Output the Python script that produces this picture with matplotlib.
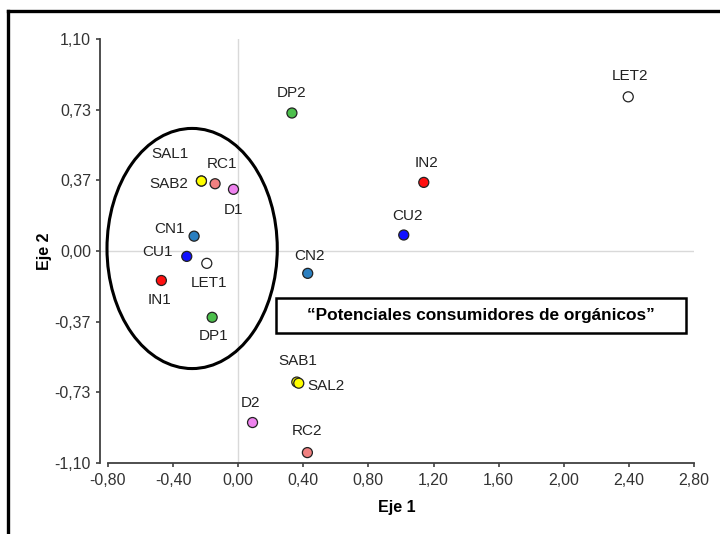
import matplotlib
matplotlib.use("Agg")
import matplotlib.pyplot as plt
from matplotlib.patches import Ellipse
from matplotlib.lines import Line2D
import numpy as np

plt.rcParams['font.family'] = ['Liberation Sans', 'DejaVu Sans']

# ---- data ----
labels = ["DP2", "SAL1", "SAB2", "RC1", "D1", "CN1", "CU1", "LET1", "IN1", "DP1",
          "CN2", "SAB1", "SAL2", "D2", "RC2", "IN2", "CU2", "LET2"]
eje1 = [0.33, -0.226, -0.226, -0.142, -0.029, -0.271, -0.316, -0.193, -0.472, -0.160,
        0.427, 0.360, 0.372, 0.088, 0.425, 1.140, 1.017, 2.396]
eje2 = [0.716, 0.363, 0.363, 0.349, 0.320, 0.077, -0.028, -0.064, -0.153, -0.344,
        -0.116, -0.680, -0.686, -0.890, -1.046, 0.356, 0.083, 0.800]
colors = ["#4cbf4c", "#ffff00", "#ffff00", "#f08080", "#ee82ee", "#2b7fc0", "#1010ff",
          "#ffffff", "#ff1010", "#4cbf4c", "#2b7fc0", "#ffff00", "#ffff00", "#ee82ee",
          "#f08080", "#ff1010", "#1010ff", "#ffffff"]
# label offsets in pixels (dx, dy; y up)
offsets = [(0, 20), (-31, 27), (-33, -3), (7, 20), (0, -21), (-25, 7), (-29, 4), (2, -20),
           (-2, -20), (1, -19), (2, 17), (1, 21), (27, -3), (-2, 20), (0, 22), (3, 19), (4, 19), (2, 21)]

xticks = [-0.80, -0.40, 0.00, 0.40, 0.80, 1.20, 1.60, 2.00, 2.40, 2.80]
yticks = list(np.linspace(-1.10, 1.10, 7))
ytick_labels = ["-1,10", "-0,73", "-0,37", "0,00", "0,37", "0,73", "1,10"]
xtick_labels = ["-0,80", "-0,40", "0,00", "0,40", "0,80", "1,20", "1,60", "2,00", "2,40", "2,80"]

W, H = 720, 534
fig = plt.figure(figsize=(W / 100, H / 100), dpi=100)
ax = fig.add_axes([100 / W, 1 - 463 / H, 594 / W, 424 / H])
ax.set_xlim(-0.849, 2.80)
ax.set_ylim(-1.10, 1.10)

for s in ["top", "right"]:
    ax.spines[s].set_visible(False)
ax.spines["left"].set_bounds(-1.10, 1.10)
ax.spines["bottom"].set_bounds(-0.80, 2.80)
for s in ["left", "bottom"]:
    ax.spines[s].set_color("#404040")
    ax.spines[s].set_linewidth(1.3)

ax.set_xticks(xticks)
ax.set_xticklabels(xtick_labels)
ax.set_yticks(yticks)
ax.set_yticklabels(ytick_labels)
ax.tick_params(axis="both", colors="#404040", labelcolor="#333333", labelsize=11.5,
               length=3, width=1.2)
ax.tick_params(axis="x", pad=4)

ax.axvline(0, color="#d9d9d9", lw=1, zorder=0)
ax.axhline(0, color="#d9d9d9", lw=1, zorder=0)

ax.scatter(eje1, eje2, s=52, c=colors, edgecolors="#222222", linewidths=0.9,
           zorder=3, clip_on=False)
for lab, x, y, (dx, dy) in zip(labels, eje1, eje2, offsets):
    ax.annotate(lab, (x, y), xytext=(dx * 0.72, dy * 0.72), textcoords="offset points",
                ha="center", va="center", fontsize=11, color="#222222", zorder=4)

ell = Ellipse((-0.283, 0.013), 1.046, 1.246, fill=False, edgecolor="black", lw=2.2, zorder=2)
ax.add_patch(ell)

ax.set_xlabel("Eje 1", fontsize=11.5, fontweight="bold", labelpad=9)
ax.set_ylabel("Eje 2", fontsize=11.5, fontweight="bold", labelpad=2)

# annotation box (pixel coords -> figure fraction)
bx0, by0, bx1, by1 = 276, 298, 686, 333
fig.patches.append(plt.Rectangle((bx0 / W, 1 - by1 / H), (bx1 - bx0) / W, (by1 - by0) / H,
                                 transform=fig.transFigure, fill=True, facecolor="white",
                                 edgecolor="black", lw=1.8, zorder=5))
fig.text((bx0 + bx1) / 2 / W, 1 - (by0 + by1) / 2 / H,
         "\u201cPotenciales consumidores de org\u00e1nicos\u201d",
         ha="center", va="center", fontsize=12.4, fontweight="bold", color="black", zorder=6)

# outer frame (top and left edges)
fig.lines.append(Line2D([8 / W, 1.0], [1 - 10.5 / H, 1 - 10.5 / H], transform=fig.transFigure,
                        color="black", lw=2.4))
fig.lines.append(Line2D([8 / W, 8 / W], [0, 1 - 10.5 / H], transform=fig.transFigure,
                        color="black", lw=2.4))

fig.savefig("out.png", dpi=100)
